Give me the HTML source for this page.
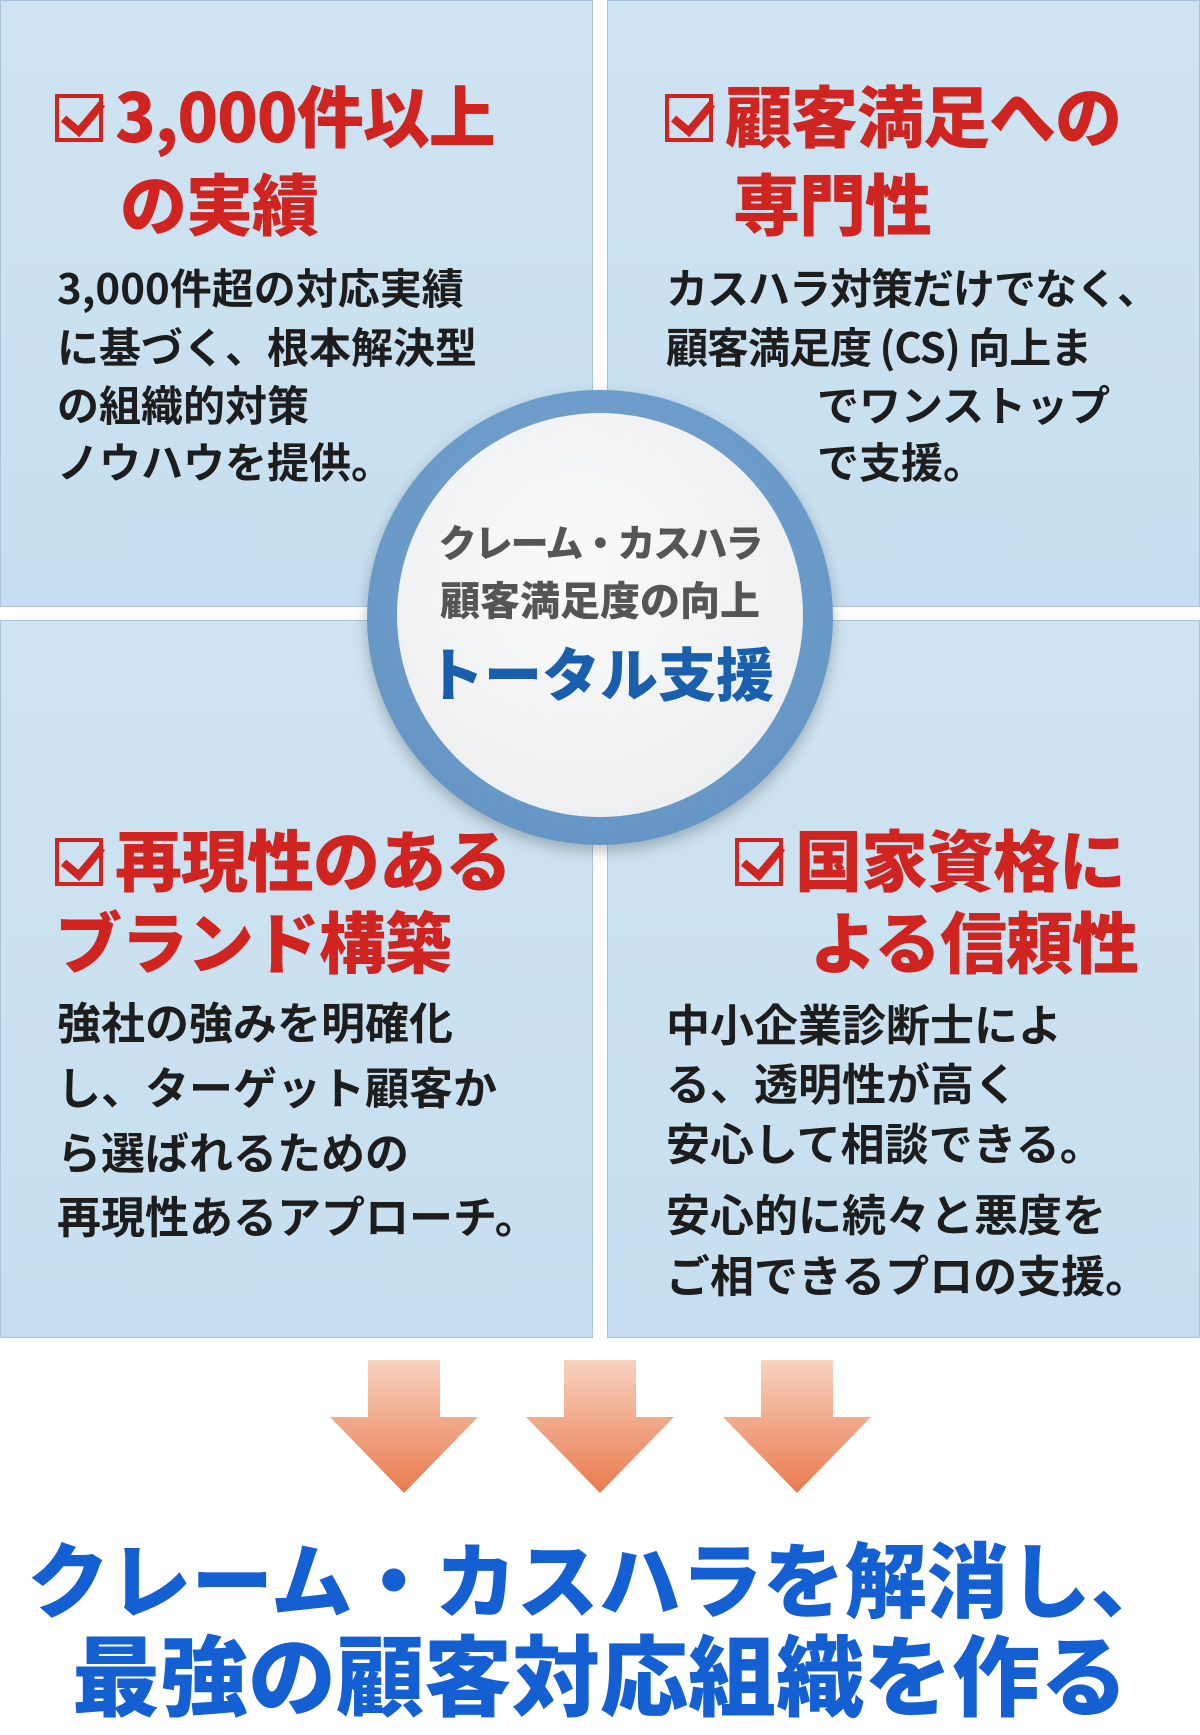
<!DOCTYPE html>
<html><head><meta charset="utf-8"><style>
*{margin:0;padding:0;box-sizing:border-box}
body{width:1200px;height:1720px;background:#fff;position:relative;overflow:hidden;font-family:"Noto Sans CJK JP","Liberation Sans",sans-serif}
.p{position:absolute;background:linear-gradient(180deg,#cfe4f2,#c6deef);border:1px solid #a9c3d8}
.t{position:absolute;color:#cf2420;font-weight:900;font-size:67px;line-height:1;white-space:nowrap;letter-spacing:-1px}
.b{position:absolute;color:#1d1d1d;font-weight:700;font-size:42px;line-height:1;white-space:nowrap}
.cb{display:inline-block;width:48px;height:48px;border:4px solid #cf2420;position:relative;vertical-align:middle;margin-right:12px;top:-6px}
.cb:after{content:"";position:absolute;left:12px;top:-4px;width:16px;height:32px;border-right:8px solid #cf2420;border-bottom:8px solid #cf2420;transform:rotate(40deg)}
.f{position:absolute;left:0;width:1200px;text-align:center;color:#1460d2;font-weight:900;white-space:nowrap;line-height:1}
</style></head><body>
<div class="p" style="left:0;top:0;width:593px;height:607px"></div>
<div class="p" style="left:607px;top:0;width:593px;height:607px"></div>
<div class="p" style="left:0;top:620px;width:593px;height:718px"></div>
<div class="p" style="left:607px;top:620px;width:593px;height:718px"></div>

<div class="t" style="left:55px;top:80px"><span class="cb"></span>3,000件以上</div>
<div class="t" style="left:120px;top:168px">の実績</div>
<div class="b" style="left:57px;top:266px">3,000件超の対応実績</div>
<div class="b" style="left:57px;top:325px">に基づく、根本解決型</div>
<div class="b" style="left:57px;top:383px">の組織的対策</div>
<div class="b" style="left:57px;top:440px">ノウハウを提供。</div>

<div class="t" style="left:665px;top:80px"><span class="cb"></span>顧客満足への</div>
<div class="t" style="left:733px;top:168px">専門性</div>
<div class="b" style="left:666px;top:266px;letter-spacing:-1px">カスハラ対策だけでなく、</div>
<div class="b" style="left:666px;top:325px;letter-spacing:-1px">顧客満足度 (CS) 向上ま</div>
<div class="b" style="left:817px;top:383px">でワンストップ</div>
<div class="b" style="left:817px;top:440px">で支援。</div>

<div class="t" style="left:55px;top:824px"><span class="cb"></span>再現性のある</div>
<div class="t" style="left:55px;top:906px">ブランド構築</div>
<div class="b" style="left:57px;top:998px;font-size:44px">強社の強みを明確化</div>
<div class="b" style="left:57px;top:1063px;font-size:44px">し、ターゲット顧客か</div>
<div class="b" style="left:57px;top:1128px;font-size:44px">ら選ばれるための</div>
<div class="b" style="left:57px;top:1192px;font-size:44px">再現性あるアプローチ。</div>

<div class="t" style="left:735px;top:824px"><span class="cb"></span>国家資格に</div>
<div class="t" style="left:810px;top:906px">よる信頼性</div>
<div class="b" style="left:666px;top:1000px;font-size:44px">中小企業診断士によ</div>
<div class="b" style="left:666px;top:1059px;font-size:44px">る、透明性が高く</div>
<div class="b" style="left:666px;top:1119px;font-size:44px">安心して相談できる。</div>
<div class="b" style="left:666px;top:1190px;font-size:44px">安心的に続々と悪度を</div>
<div class="b" style="left:666px;top:1251px;font-size:44px">ご相できるプロの支援。</div>

<div style="position:absolute;left:367px;top:390px;width:466px;height:455px;border-radius:50%;background:radial-gradient(circle at 50% 40%,#7aa9d3,#5f8fc0);box-shadow:0 6px 14px rgba(0,0,0,.25)"></div>
<div style="position:absolute;left:397px;top:413px;width:406px;height:404px;border-radius:50%;background:radial-gradient(circle at 45% 40%,#fafafa,#e9ebed)"></div>
<div style="position:absolute;left:397px;top:522px;width:406px;text-align:center;color:#555;font-weight:900;font-size:38px;line-height:1;white-space:nowrap;letter-spacing:-2px">クレーム・カスハラ</div>
<div style="position:absolute;left:397px;top:578px;width:406px;text-align:center;color:#555;font-weight:900;font-size:40px;line-height:1;white-space:nowrap">顧客満足度の向上</div>
<div style="position:absolute;left:397px;top:642px;width:406px;text-align:center;color:#1a5fae;font-weight:900;font-size:58px;line-height:1;white-space:nowrap">トータル支援</div>

<svg style="position:absolute;left:0;top:1355px" width="1200" height="145">
<defs><linearGradient id="g" x1="0" y1="0" x2="0" y2="1"><stop offset="0" stop-color="#f7d3bf"/><stop offset="1" stop-color="#e97a4e"/></linearGradient></defs>
<g fill="url(#g)">
<polygon points="368,5 440,5 440,62 478,62 404,138 330,62 368,62"/>
<polygon points="564,5 636,5 636,62 674,62 600,138 526,62 564,62"/>
<polygon points="761,5 833,5 833,62 871,62 797,138 723,62 761,62"/>
</g></svg>

<div class="f" style="top:1535px;font-size:82px;letter-spacing:0px">クレーム・カスハラを解消し、</div>
<div class="f" style="top:1628px;font-size:88px">最強の顧客対応組織を作る</div>
</body></html>
